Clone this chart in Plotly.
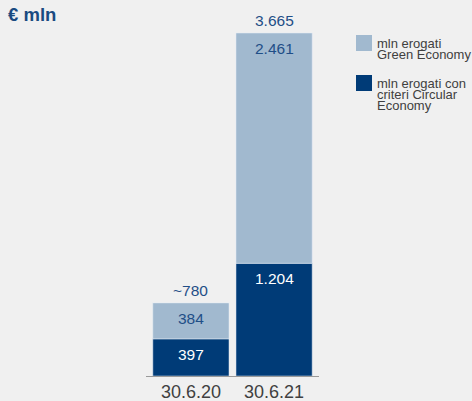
import plotly.graph_objects as go

categories = ["30.6.20", "30.6.21"]
circular_values = [397, 1204]
green_values = [384, 2461]
circular_labels = ["397", "1.204"]
green_labels = ["384", "2.461"]
total_labels = ["~780", "3.665"]
legend_items = [
    ["mln erogati", "Green Economy"],
    ["mln erogati con", "criteri Circular", "Economy"],
]

DARK = "#003b77"
LIGHT = "#a1b9cf"
LABEL_BLUE = "#1f4e87"
GRAY_TXT = "#404040"
BG = "#f0f0f0"

W, H = 472, 401
ML, MR, MT, MB = 146, 153, 20, 25
PW = W - ML - MR
PH = H - MT - MB


def px2x(px):
    return (px - ML) / PW


def px2y(py):
    return (H - MB - py) / PH


fig = go.Figure()
fig.add_trace(go.Bar(x=categories, y=circular_values, marker_color=DARK,
                     width=0.916, name="circular", hoverinfo="skip"))
fig.add_trace(go.Bar(x=categories, y=green_values, marker_color=LIGHT,
                     width=0.916, name="green", hoverinfo="skip",
                     base=circular_values))

annotations = []
for i, c in enumerate(categories):
    top_dark = circular_values[i]
    top_all = circular_values[i] + green_values[i]
    annotations.append(dict(x=c, y=top_dark, xref="x", yref="y", text=circular_labels[i],
                            showarrow=False, yanchor="top", yshift=-5,
                            font=dict(family="Liberation Sans, Arial", size=15.5, color="white")))
    annotations.append(dict(x=c, y=top_all, xref="x", yref="y", text=green_labels[i],
                            showarrow=False, yanchor="top", yshift=-5,
                            font=dict(family="Liberation Sans, Arial", size=15.5, color=LABEL_BLUE)))
    annotations.append(dict(x=c, y=top_all, xref="x", yref="y", text=total_labels[i],
                            showarrow=False, yanchor="bottom", yshift=2,
                            font=dict(family="Liberation Sans, Arial", size=15.5, color=LABEL_BLUE)))

# custom legend
shapes = []
legend_colors = [LIGHT, DARK]
sq_tops = [35, 75]
for k, lines in enumerate(legend_items):
    t = sq_tops[k]
    shapes.append(dict(type="rect", xref="paper", yref="paper",
                       x0=px2x(356), x1=px2x(372), y0=px2y(t + 16), y1=px2y(t),
                       fillcolor=legend_colors[k], line=dict(width=0)))
    for j, line in enumerate(lines):
        annotations.append(dict(x=px2x(375), y=px2y(t + 8 + j * 11.3), xref="paper", yref="paper",
                                text=line, showarrow=False, xanchor="left", yanchor="middle",
                                font=dict(family="Liberation Sans, Arial", size=13, color=GRAY_TXT)))

fig.update_layout(
    width=W, height=H,
    margin=dict(l=ML, r=MR, t=MT, b=MB, pad=0, autoexpand=False),
    barmode="overlay",
    paper_bgcolor=BG, plot_bgcolor=BG,
    showlegend=False,
    title=dict(text="<b>€ mln</b>", x=8 / W, xanchor="left", xref="container",
               y=1 - 15 / H, yanchor="middle",
               font=dict(family="Liberation Sans, Arial", size=18.5, color="#1a4a80")),
    xaxis=dict(range=[-0.54, 1.54], showline=True, linecolor="#9a9a9a", linewidth=1,
               showgrid=False, zeroline=False, ticks="", automargin=False,
               ticklabelstandoff=-1,
               tickfont=dict(family="Liberation Sans, Arial", size=18, color=GRAY_TXT)),
    yaxis=dict(range=[0, 3804], visible=False, showgrid=False, zeroline=False, automargin=False),
    annotations=annotations,
    shapes=shapes,
)

fig.write_html("out.html", config={"displayModeBar": False},
               post_script="document.body.style.margin='0';document.body.style.overflow='hidden';")
